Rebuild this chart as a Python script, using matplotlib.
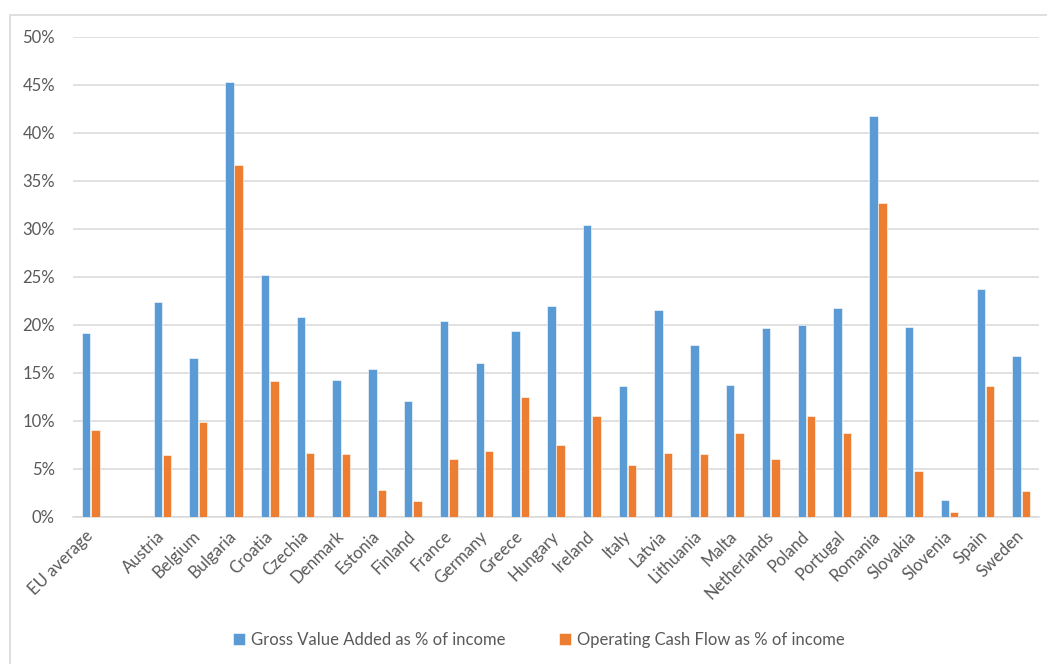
import numpy as np
import matplotlib.pyplot as plt
from matplotlib.patches import Rectangle

# Categories (blank slot between EU average and the member states)
countries = ['EU average', '', 'Austria', 'Belgium', 'Bulgaria', 'Croatia', 'Czechia',
             'Denmark', 'Estonia', 'Finland', 'France', 'Germany', 'Greece', 'Hungary',
             'Ireland', 'Italy', 'Latvia', 'Lithuania', 'Malta', 'Netherlands', 'Poland',
             'Portugal', 'Romania', 'Slovakia', 'Slovenia', 'Spain', 'Sweden']

# Shares in % of income (NaN = empty slot)
gva = [19.2, np.nan, 22.4, 16.6, 45.3, 25.2, 20.8,
       14.3, 15.4, 12.1, 20.4, 16.0, 19.4, 22.0,
       30.4, 13.6, 21.6, 17.9, 13.8, 19.7, 20.0,
       21.8, 41.8, 19.8, 1.8, 23.8, 16.8]
ocf = [9.1, np.nan, 6.5, 9.9, 36.7, 14.2, 6.7,
       6.6, 2.8, 1.7, 6.0, 6.9, 12.5, 7.5,
       10.5, 5.4, 6.7, 6.6, 8.7, 6.0, 10.5,
       8.8, 32.7, 4.8, 0.5, 13.6, 2.7]

yticks = [0, 5, 10, 15, 20, 25, 30, 35, 40, 45, 50]

BLUE = '#5B9BD5'
ORANGE = '#ED7D31'
GRID = '#D9D9D9'
TEXT = '#595959'

plt.rcParams['font.family'] = ['Lato', 'DejaVu Sans']

fig = plt.figure(figsize=(10.47, 6.64), dpi=100)
ax = fig.add_axes([0.0697, 0.2214, 0.9227, 0.7229])

x = np.arange(len(countries))
w = 0.235
ax.bar(x - 0.13, gva, w, color=BLUE, edgecolor='white', linewidth=0.4,
       label='Gross Value Added as % of income', zorder=3)
ax.bar(x + 0.13, ocf, w, color=ORANGE, edgecolor='white', linewidth=0.4,
       label='Operating Cash Flow as % of income', zorder=3)

ax.set_xlim(-0.5, len(countries) - 0.5)
ax.set_ylim(0, 50)
ax.set_yticks(yticks)
ax.set_yticklabels([f'{t}%' for t in yticks])
ax.yaxis.grid(True, color=GRID, linewidth=1.1, zorder=0)
ax.tick_params(axis='y', length=0, pad=13, labelsize=12, labelcolor=TEXT)

ax.set_xticks(x)
ax.set_xticklabels(countries, rotation=45, ha='right', va='center',
                   rotation_mode='anchor')
ax.tick_params(axis='x', length=0, pad=12, labelsize=12, labelcolor=TEXT)

for s in ['top', 'right', 'left']:
    ax.spines[s].set_visible(False)
ax.spines['bottom'].set_color(GRID)
ax.spines['bottom'].set_linewidth(1.1)

# chart area frame
fig.patches.append(Rectangle((10 / 1047, -0.1), 1.2, 0.1 + (664 - 15) / 664,
                             transform=fig.transFigure, fill=False,
                             edgecolor=GRID, linewidth=1.2))

fig.legend(loc='center', bbox_to_anchor=(539 / 1047, 1 - 640 / 664), ncol=2,
           frameon=False, fontsize=12, labelcolor=TEXT, handlelength=0.7,
           handleheight=0.7, handletextpad=0.4, columnspacing=3.2)

fig.savefig('out.png', dpi=100)
